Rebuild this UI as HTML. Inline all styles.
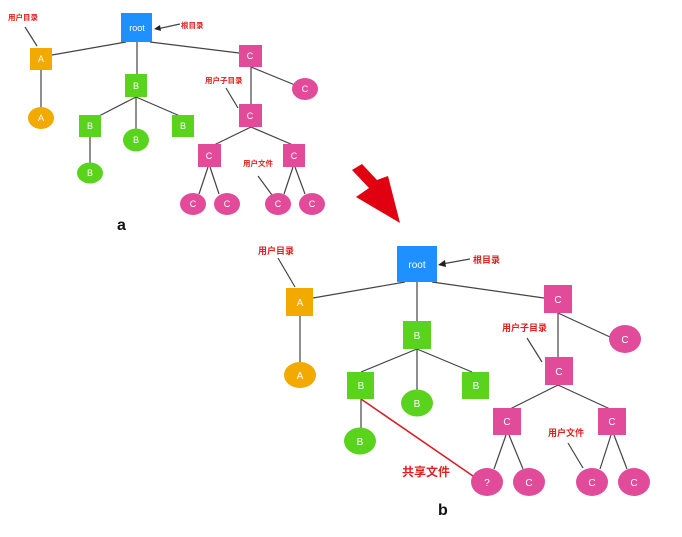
<!DOCTYPE html>
<html><head><meta charset="utf-8"><style>html,body{margin:0;padding:0;background:#fff}svg{display:block}</style></head>
<body>
<svg width="682" height="537" viewBox="0 0 682 537" xmlns="http://www.w3.org/2000/svg" font-family="Liberation Sans, Noto Sans CJK SC, sans-serif">
<g stroke="#444" stroke-width="1.2" fill="none">
<!-- a -->
<line x1="126" y1="42" x2="52" y2="55"/><line x1="137" y1="42" x2="137" y2="74"/><line x1="150" y1="42" x2="239" y2="53"/>
<line x1="41" y1="70" x2="41" y2="107"/>
<line x1="136" y1="97" x2="99" y2="116"/><line x1="136" y1="97" x2="136" y2="129"/><line x1="136" y1="97" x2="180" y2="116"/>
<line x1="90" y1="137" x2="90" y2="163"/>
<line x1="251" y1="67" x2="251" y2="104"/><line x1="251" y1="67" x2="295" y2="85"/>
<line x1="251" y1="127" x2="214" y2="145"/><line x1="251" y1="127" x2="293" y2="145"/>
<line x1="208" y1="167" x2="199" y2="194"/><line x1="210" y1="167" x2="219" y2="194"/>
<line x1="293" y1="167" x2="284" y2="194"/><line x1="295" y1="167" x2="305" y2="194"/>
<line x1="25" y1="27" x2="37" y2="46"/><line x1="226" y1="88" x2="238" y2="108"/><line x1="258" y1="176" x2="272" y2="195"/>
<line x1="180" y1="24" x2="157" y2="29"/>
<!-- b -->
<line x1="405" y1="282" x2="313" y2="298"/><line x1="417" y1="282" x2="417" y2="321"/><line x1="432" y1="282" x2="544" y2="298"/>
<line x1="300" y1="316" x2="300" y2="362"/>
<line x1="417" y1="349" x2="361" y2="372"/><line x1="417" y1="349" x2="417" y2="390"/><line x1="417" y1="349" x2="472" y2="372"/>
<line x1="361" y1="399" x2="361" y2="428"/>
<line x1="558" y1="313" x2="558" y2="357"/><line x1="558" y1="313" x2="610" y2="337"/>
<line x1="558" y1="385" x2="510" y2="409"/><line x1="558" y1="385" x2="610" y2="409"/>
<line x1="506" y1="435" x2="494" y2="469"/><line x1="509" y1="435" x2="523" y2="469"/>
<line x1="611" y1="435" x2="600" y2="469"/><line x1="614" y1="435" x2="627" y2="469"/>
<line x1="278" y1="258" x2="295" y2="287"/><line x1="527" y1="338" x2="542" y2="362"/><line x1="568" y1="443" x2="583" y2="468"/>
<line x1="470" y1="259" x2="442" y2="264"/>
</g>
<polygon points="154,29 160,25 161,31" fill="#222"/>
<polygon points="438,265 445,260 446,267" fill="#222"/>
<line x1="361" y1="399" x2="473" y2="476" stroke="#d8202a" stroke-width="1.6"/>
<polygon points="352,170 362,164 377,180 388,176 400,223 356,197 369,188" fill="#e0000f"/>
<g font-size="9" fill="#fff" text-anchor="middle">
<rect x="121" y="13" width="31" height="29" fill="#1e90ff"/><text x="137" y="31">root</text>
<rect x="30" y="48" width="22" height="22" fill="#f2a900"/><text x="41" y="62">A</text>
<ellipse cx="41" cy="118" rx="13" ry="11" fill="#f2a900"/><text x="41" y="121">A</text>
<rect x="125" y="74" width="22" height="23" fill="#5ad31d"/><text x="136" y="89">B</text>
<rect x="79" y="115" width="22" height="22" fill="#5ad31d"/><text x="90" y="129">B</text>
<rect x="172" y="115" width="22" height="22" fill="#5ad31d"/><text x="183" y="129">B</text>
<ellipse cx="136" cy="140" rx="13" ry="11.5" fill="#5ad31d"/><text x="136" y="143">B</text>
<ellipse cx="90" cy="173" rx="13" ry="10.5" fill="#5ad31d"/><text x="90" y="176">B</text>
<rect x="239" y="45" width="23" height="22" fill="#e14b9a"/><text x="250" y="59">C</text>
<ellipse cx="305" cy="89" rx="13" ry="11" fill="#e14b9a"/><text x="305" y="92">C</text>
<rect x="239" y="104" width="23" height="23" fill="#e14b9a"/><text x="250" y="119">C</text>
<rect x="198" y="144" width="23" height="23" fill="#e14b9a"/><text x="209" y="159">C</text>
<rect x="283" y="144" width="22" height="23" fill="#e14b9a"/><text x="294" y="159">C</text>
<ellipse cx="193" cy="204" rx="13" ry="11" fill="#e14b9a"/><text x="193" y="207">C</text>
<ellipse cx="227" cy="204" rx="13" ry="11" fill="#e14b9a"/><text x="227" y="207">C</text>
<ellipse cx="278" cy="204" rx="13" ry="11" fill="#e14b9a"/><text x="278" y="207">C</text>
<ellipse cx="312" cy="204" rx="13" ry="11" fill="#e14b9a"/><text x="312" y="207">C</text>
</g>
<g font-size="10" fill="#fff" text-anchor="middle">
<rect x="397" y="246" width="40" height="36" fill="#1e90ff"/><text x="417" y="268">root</text>
<rect x="286" y="288" width="27" height="28" fill="#f2a900"/><text x="300" y="306">A</text>
<ellipse cx="300" cy="375" rx="16" ry="13" fill="#f2a900"/><text x="300" y="379">A</text>
<rect x="403" y="321" width="28" height="28" fill="#5ad31d"/><text x="417" y="339">B</text>
<rect x="347" y="372" width="27" height="27" fill="#5ad31d"/><text x="361" y="389">B</text>
<rect x="462" y="372" width="27" height="27" fill="#5ad31d"/><text x="476" y="389">B</text>
<ellipse cx="417" cy="403" rx="16" ry="13.5" fill="#5ad31d"/><text x="417" y="407">B</text>
<ellipse cx="360" cy="441" rx="16" ry="13.5" fill="#5ad31d"/><text x="360" y="445">B</text>
<rect x="544" y="285" width="28" height="28" fill="#e14b9a"/><text x="558" y="303">C</text>
<ellipse cx="625" cy="339" rx="16" ry="14" fill="#e14b9a"/><text x="625" y="343">C</text>
<rect x="545" y="357" width="28" height="28" fill="#e14b9a"/><text x="559" y="375">C</text>
<rect x="493" y="408" width="28" height="27" fill="#e14b9a"/><text x="507" y="425">C</text>
<rect x="598" y="408" width="28" height="27" fill="#e14b9a"/><text x="612" y="425">C</text>
<ellipse cx="487" cy="482" rx="16" ry="14" fill="#e14b9a"/><text x="487" y="486">?</text>
<ellipse cx="529" cy="482" rx="16" ry="14" fill="#e14b9a"/><text x="529" y="486">C</text>
<ellipse cx="592" cy="482" rx="16" ry="14" fill="#e14b9a"/><text x="592" y="486">C</text>
<ellipse cx="634" cy="482" rx="16" ry="14" fill="#e14b9a"/><text x="634" y="486">C</text>
</g>
<g fill="#e0201e" font-weight="bold">
<text x="8" y="20" font-size="7.5">用户目录</text>
<text x="181" y="28" font-size="7.5">根目录</text>
<text x="205" y="83" font-size="7.5">用户子目录</text>
<text x="243" y="166" font-size="7.5">用户文件</text>
<text x="258" y="254" font-size="9">用户目录</text>
<text x="473" y="263" font-size="9">根目录</text>
<text x="502" y="331" font-size="9">用户子目录</text>
<text x="548" y="436" font-size="9">用户文件</text>
<text x="402" y="476" font-size="12">共享文件</text>
</g>
<text x="117" y="230" font-size="16" font-weight="bold" fill="#111">a</text>
<text x="438" y="515" font-size="16" font-weight="bold" fill="#111">b</text>
</svg>
</body></html>
